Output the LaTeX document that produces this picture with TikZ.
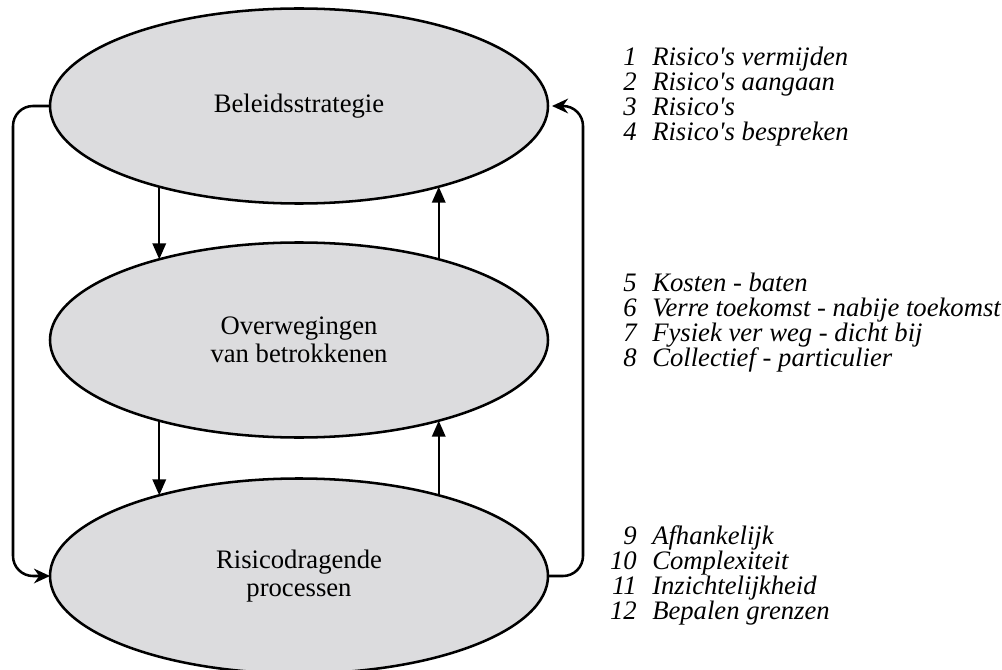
\documentclass[tikz,border=0pt]{standalone}
\usepackage{fontspec}
\setmainfont{Liberation Serif}
\usetikzlibrary{arrows.meta,shapes.geometric}
\definecolor{ellfill}{RGB}{220,220,222}
\newcommand{\ap}{\textquotesingle}
\tikzset{
  ell/.style={ellipse, draw=black, line width=1.9pt, fill=ellfill, minimum width=373.5pt, minimum height=146.25pt, inner sep=0pt, outer sep=0pt, align=center, font=\fontsize{20}{21}\selectfont},
  varrow/.style={line width=1.8pt, -{Triangle[length=12pt,width=10pt]}},
  sarrow/.style={line width=1.9pt, rounded corners=15pt, -{Stealth[length=12pt,width=11pt]}},
  num/.style={anchor=base east, inner sep=0pt, font=\fontsize{20}{21}\selectfont\itshape},
  itm/.style={anchor=base west, inner sep=0pt, font=\fontsize{20}{21}\selectfont\itshape}
}
\begin{document}
\begin{tikzpicture}[x=0.75pt,y=-0.75pt]
\useasboundingbox (0,0) rectangle (1002,670);
\node[ell] (top) at (299,106) {Beleidsstrategie};
\node[ell] (mid) at (299,340) {Overwegingen\\van betrokkenen};
\node[ell] (bot) at (299,576) {Risicodragende\\processen};
% vertical arrows
\draw[varrow] (top.210) -- (mid.150);
\draw[varrow] (mid.30) -- (top.330);
\draw[varrow] (mid.210) -- (bot.150);
\draw[varrow] (bot.30) -- (mid.330);
% side loops
\draw[sarrow] (top.west) -- ([xshift=-27.75pt]top.west) |- (bot.west);
\draw[sarrow] (bot.east) -- ([xshift=26.25pt]bot.east) |- ([xshift=3pt]top.east);
% list
\foreach \n/\t/\y in {1/Risico\ap s vermijden/66, 2/Risico\ap s aangaan/91, 3/Risico\ap s/116, 4/Risico\ap s bespreken/141,
  5/Kosten - baten/291, 6/Verre toekomst - nabije toekomst/316, 7/Fysiek ver weg - dicht bij/341, 8/Collectief - particulier/366,
  9/Afhankelijk/544, 10/Complexiteit/569, 11/Inzichtelijkheid/594, 12/Bepalen grenzen/619}{
  \node[num] (n\n) at (637,\y) {\n};
  \node[itm] (t\n) at (652,\y) {\t};
}
\end{tikzpicture}
\end{document}
